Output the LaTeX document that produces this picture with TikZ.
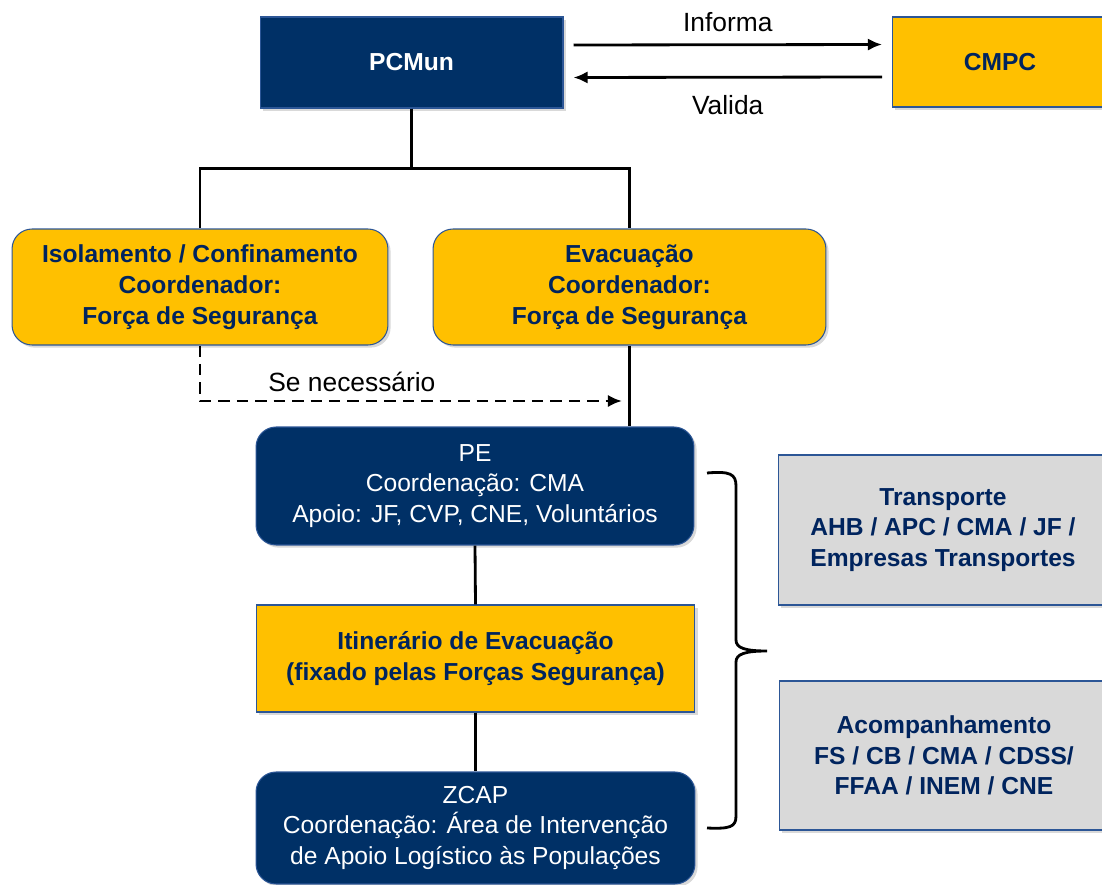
\documentclass[tikz,border=0pt]{standalone}
\usepackage{fontspec}
\setmainfont{Liberation Sans}
\usetikzlibrary{shapes,arrows,arrows.meta,positioning,fit,shadows}
\usepackage{xcolor}
\definecolor{navycustom}{RGB}{0,48,102}
\definecolor{navyedge}{RGB}{44,86,150}
\definecolor{yellowcustom}{RGB}{255,192,0}
\definecolor{greycustom}{RGB}{217,217,217}
\definecolor{textnavy}{RGB}{0,36,94}

\begin{document}
\begin{tikzpicture}[x=0.02cm, y=-0.02cm, font=\fontsize{14}{17.5}\selectfont,
    shade box/.style={drop shadow={opacity=0.3, shadow xshift=1.5pt, shadow yshift=-1.5pt}},
    navybox/.style={shade box, draw=navyedge, fill=navycustom, line width=0.6pt, text=white, align=center, inner sep=0pt},
    yellowbox/.style={shade box, draw=navyedge, fill=yellowcustom, line width=0.6pt, text=textnavy, align=center, inner sep=0pt, font=\fontsize{14}{17.5}\selectfont\bfseries},
    greybox/.style={shade box, draw=navyedge, fill=greycustom, line width=0.6pt, text=textnavy, align=center, inner sep=0pt, font=\fontsize{14}{17.5}\selectfont\bfseries},
    link/.style={line width=1.6pt},
    tip/.style={-{Latex[length=8pt, width=7pt]}}]
    \clip (0,0) rectangle (1102,885);

    % top row
    \node[navybox, minimum width=6.06cm, minimum height=1.82cm] (pcmun) at (411.5,62.5) {\textbf{PCMun}};
    \node[yellowbox, minimum width=4.3cm, minimum height=1.8cm] (cmpc) at (1000,62) {CMPC};

    % coordinators
    \node[yellowbox, rounded corners=0.4cm, minimum width=7.52cm, minimum height=2.32cm] (isol) at (200,287) {Isolamento / Confinamento\\Coordenador:\\Força de Segurança};
    \node[yellowbox, rounded corners=0.4cm, minimum width=7.86cm, minimum height=2.32cm] (evac) at (629.5,287) {Evacuação\\Coordenador:\\Força de Segurança};

    % evacuation chain
    \node[navybox, rounded corners=0.4cm, minimum width=8.76cm, minimum height=2.36cm] (pe) at (475,486) {PE\\Coordenação: CMA\\Apoio: JF, CVP, CNE, Voluntários};
    \node[yellowbox, minimum width=8.78cm, minimum height=2.14cm] (itin) at (475.5,658.5) {Itinerário de Evacuação\\(fixado pelas Forças Segurança)};
    \node[navybox, rounded corners=0.4cm, minimum width=8.78cm, minimum height=2.24cm] (zcap) at (475.5,828) {ZCAP\\Coordenação: Área de Intervenção\\de Apoio Logístico às Populações};

    % side boxes
    \node[greybox, minimum width=6.6cm, minimum height=3cm] (transp) at (943,530) {Transporte\\AHB / APC / CMA / JF /\\Empresas Transportes};
    \node[greybox, minimum width=6.6cm, minimum height=2.98cm] (acomp) at (944,755.5) {Acompanhamento\\FS / CB / CMA / CDSS/\\FFAA / INEM / CNE};

    % connectors
    \draw[link, tip] ([xshift=0.2cm, yshift=0.35cm]pcmun.east) -- ([xshift=-0.2cm, yshift=0.35cm]cmpc.west)
        node[midway, above=3pt, font=\fontsize{15}{18}\selectfont] {Informa};
    \draw[link, tip] ([xshift=-0.2cm, yshift=-0.3cm]cmpc.west) -- ([xshift=0.2cm, yshift=-0.3cm]pcmun.east)
        node[midway, below=6pt, font=\fontsize{15}{18}\selectfont] {Valida};
    \draw[link] (pcmun.south) -- ++(0,60) -| (isol.north);
    \draw[link] (pcmun.south) -- ++(0,60) -| (evac.north);
    \draw[link] (evac.south) -- (evac.south |- pe.north);
    \coordinate (need) at (622,401);
    \draw[link, dash pattern=on 6.5pt off 4pt, tip] (isol.south) |- (need)
        node[pos=0.68, above=1pt, font=\fontsize{15}{18}\selectfont] {Se necessário};
    \draw[link] (pe.south) -- (itin.north);
    \draw[link] (itin.south) -- (zcap.north);

    % brace
    \draw[link] (707,473) .. controls (730,471) and (736,474) .. (736,486) -- (736,640)
        .. controls (736,648) and (745,651) .. (767,651)
        .. controls (745,651) and (736,654) .. (736,662) -- (736,816)
        .. controls (736,827) and (730,829) .. (707,828);
\end{tikzpicture}
\end{document}
